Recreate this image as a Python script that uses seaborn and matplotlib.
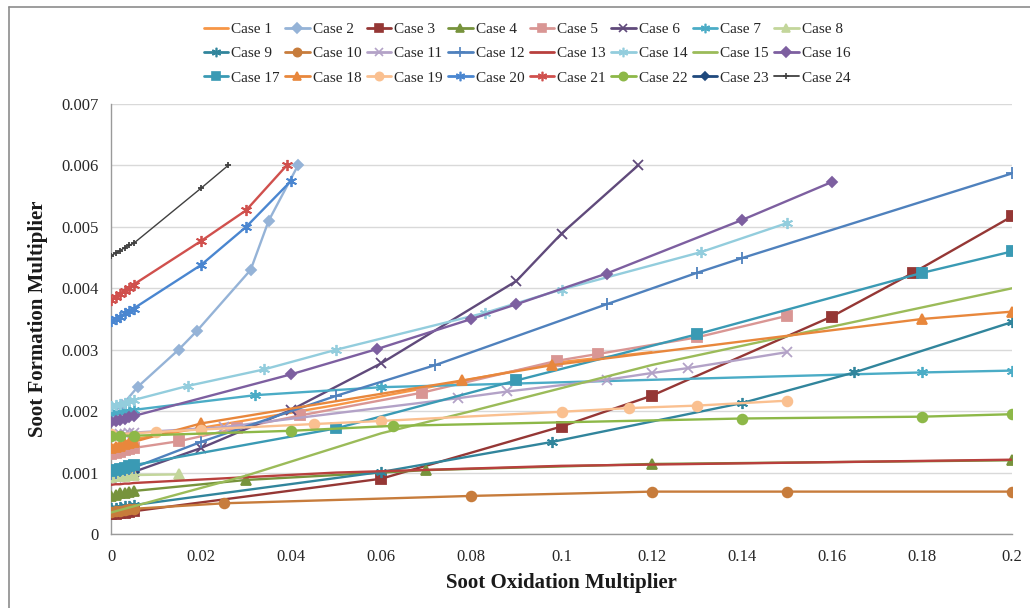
import matplotlib
matplotlib.use("Agg")
import matplotlib.pyplot as plt
from matplotlib.lines import Line2D
from matplotlib.ticker import FuncFormatter, MultipleLocator
import seaborn as sns
import pandas as pd

# ---- data: soot oxidation multiplier (x) vs soot formation multiplier (y) ----
near0 = [0, 0.001, 0.002, 0.003, 0.004, 0.005]

case1_x = near0 + [0.05, 0.1, 0.12]
case1_y = [0.00144, 0.00146, 0.00148, 0.0015, 0.00152, 0.00154, 0.0021, 0.0028, 0.00296]
case2_x = [0, 0.0025, 0.006, 0.015, 0.019, 0.031, 0.035, 0.0415]
case2_y = [0.00195, 0.0021, 0.0024, 0.003, 0.0033, 0.0043, 0.0051, 0.006]
case3_x = near0 + [0.06, 0.1, 0.12, 0.16, 0.178, 0.2]
case3_y = [0.00032, 0.00033, 0.00034, 0.00035, 0.00036, 0.00037, 0.0009, 0.00175, 0.00225, 0.00354, 0.00425, 0.00517]
case4_x = near0 + [0.03, 0.07, 0.12, 0.2]
case4_y = [0.00062, 0.00064, 0.00066, 0.00067, 0.00068, 0.0007, 0.00088, 0.00104, 0.00114, 0.0012]
case5_x = near0 + [0.015, 0.028, 0.042, 0.069, 0.099, 0.108, 0.13, 0.15]
case5_y = [0.0013, 0.00132, 0.00134, 0.00136, 0.00138, 0.0014, 0.00151, 0.00172, 0.00193, 0.0023, 0.00282, 0.00293, 0.0032, 0.00355]
case6_x = near0 + [0.02, 0.04, 0.06, 0.09, 0.1, 0.117]
case6_y = [0.00091, 0.00093, 0.00095, 0.00097, 0.00099, 0.00101, 0.0014, 0.00202, 0.00278, 0.00412, 0.00489, 0.006]
case7_x = near0 + [0.032, 0.06, 0.18, 0.2]
case7_y = [0.00197, 0.00198, 0.00199, 0.002, 0.00201, 0.00202, 0.00226, 0.00239, 0.00263, 0.00266]
case8_x = near0 + [0.015]
case8_y = [0.00093, 0.00094, 0.00095, 0.00095, 0.00096, 0.00096, 0.00097]
case9_x = near0 + [0.06, 0.098, 0.14, 0.165, 0.2]
case9_y = [0.00042, 0.00043, 0.00044, 0.00045, 0.00046, 0.00047, 0.00101, 0.0015, 0.00213, 0.00263, 0.00345]
case10_x = near0 + [0.025, 0.08, 0.12, 0.15, 0.2]
case10_y = [0.00036, 0.00037, 0.00038, 0.00039, 0.0004, 0.00041, 0.0005, 0.00062, 0.00069, 0.00069, 0.00069]
case11_x = near0 + [0.025, 0.077, 0.088, 0.11, 0.12, 0.128, 0.15]
case11_y = [0.0016, 0.00161, 0.00162, 0.00163, 0.00164, 0.00165, 0.00174, 0.00221, 0.00232, 0.00251, 0.00262, 0.0027, 0.00296]
case12_x = near0 + [0.02, 0.05, 0.072, 0.11, 0.13, 0.14, 0.2]
case12_y = [0.00098, 0.001, 0.00102, 0.00104, 0.00106, 0.00108, 0.0015, 0.00225, 0.00275, 0.00374, 0.00425, 0.00449, 0.00587]
case13_x = near0 + [0.05, 0.1, 0.15, 0.2]
case13_y = [0.0008, 0.00081, 0.00081, 0.00082, 0.00082, 0.00083, 0.001, 0.00111, 0.00116, 0.00121]
case14_x = near0 + [0.017, 0.034, 0.05, 0.083, 0.1, 0.131, 0.15]
case14_y = [0.00208, 0.0021, 0.00212, 0.00214, 0.00216, 0.00218, 0.00241, 0.00268, 0.003, 0.0036, 0.00398, 0.00459, 0.00506]
case15_x = near0 + [0.03, 0.06, 0.08, 0.12, 0.2]
case15_y = [0.00035, 0.00037, 0.00039, 0.00041, 0.00043, 0.00045, 0.00095, 0.00164, 0.002, 0.00275, 0.004]
case16_x = near0 + [0.04, 0.059, 0.08, 0.09, 0.11, 0.14, 0.16]
case16_y = [0.00182, 0.00184, 0.00186, 0.00188, 0.0019, 0.00192, 0.0026, 0.00301, 0.0035, 0.00374, 0.00424, 0.00511, 0.00573]
case17_x = near0 + [0.05, 0.09, 0.13, 0.18, 0.2]
case17_y = [0.00102, 0.00104, 0.00106, 0.00108, 0.0011, 0.00112, 0.00172, 0.0025, 0.00325, 0.00425, 0.0046]
case18_x = near0 + [0.02, 0.078, 0.098, 0.18, 0.2]
case18_y = [0.0014, 0.00142, 0.00144, 0.00146, 0.00148, 0.0015, 0.0018, 0.0025, 0.00275, 0.0035, 0.00362]
case19_x = [0, 0.01, 0.02, 0.045, 0.06, 0.1, 0.115, 0.13, 0.15]
case19_y = [0.00162, 0.00166, 0.0017, 0.00179, 0.00184, 0.00199, 0.00205, 0.00209, 0.00217]
case20_x = near0 + [0.02, 0.03, 0.04]
case20_y = [0.00346, 0.0035, 0.00354, 0.00359, 0.00363, 0.00367, 0.00438, 0.005, 0.00575]
case21_x = near0 + [0.02, 0.03, 0.039]
case21_y = [0.00381, 0.00386, 0.00391, 0.00396, 0.00401, 0.00406, 0.00477, 0.00527, 0.006]
case22_x = [0, 0.002, 0.005, 0.04, 0.0625, 0.14, 0.18, 0.2]
case22_y = [0.0016, 0.0016, 0.0016, 0.00168, 0.00176, 0.00188, 0.00191, 0.00195]
case23_x = near0
case23_y = [0.00096, 0.00097, 0.00098, 0.00099, 0.001, 0.00101]
case24_x = near0 + [0.02, 0.026]
case24_y = [0.00453, 0.00457, 0.00461, 0.00466, 0.0047, 0.00473, 0.00563, 0.006]

case_names = [f"Case {i}" for i in range(1, 25)]
xs = [case1_x, case2_x, case3_x, case4_x, case5_x, case6_x, case7_x, case8_x,
      case9_x, case10_x, case11_x, case12_x, case13_x, case14_x, case15_x, case16_x,
      case17_x, case18_x, case19_x, case20_x, case21_x, case22_x, case23_x, case24_x]
ys = [case1_y, case2_y, case3_y, case4_y, case5_y, case6_y, case7_y, case8_y,
      case9_y, case10_y, case11_y, case12_y, case13_y, case14_y, case15_y, case16_y,
      case17_y, case18_y, case19_y, case20_y, case21_y, case22_y, case23_y, case24_y]

# ---- styling per series ----
colors = ["#F79646", "#95B3D7", "#953735", "#77933C", "#D99694", "#604A7B",
          "#4BACC6", "#C3D69B", "#31859C", "#C77C3C", "#B3A2C7", "#4F81BD",
          "#B8403D", "#93CDDD", "#9BBB59", "#7D5FA0", "#3A9AB4", "#E8873C",
          "#FAC090", "#4A86D0", "#D0504D", "#8DB848", "#1F497D", "#404040"]
AST = (6, 2, 0)
markers = [None, "D", "s", "^", "s", "x", AST, "^",
           AST, "o", "x", "+", None, AST, None, "D",
           "s", "^", "o", AST, AST, "o", "D", "+"]
msizes = [0, 5.5, 6.5, 7, 6.5, 7, 8, 7,
          8, 7, 7, 8, 0, 8, 0, 5.5,
          7, 7, 7, 8, 8, 7, 5.0, 5]
lwidths = [1.7] * 23 + [1.0]
zorders = [3] * 24
zorders[22] = 2.5

rows = []
for name, xv, yv in zip(case_names, xs, ys):
    for a, b in zip(xv, yv):
        rows.append({"case": name, "x": a, "y": b})
df = pd.DataFrame(rows)

sns.set_theme(style="white")
plt.rcParams["font.family"] = ["Liberation Serif", "DejaVu Serif"]

fig = plt.figure(figsize=(10.30, 6.08), dpi=100)
ax = fig.add_axes([111 / 1030, 1 - 534 / 608, 901 / 1030, 430 / 608])

handles = []
for i, name in enumerate(case_names):
    sub = df[df["case"] == name]
    mk = markers[i]
    sns.lineplot(data=sub, x="x", y="y", ax=ax, color=colors[i], lw=lwidths[i],
                 marker=mk if mk is not None else "", markersize=msizes[i],
                 markeredgecolor=colors[i], markerfacecolor=colors[i],
                 markeredgewidth=1.3, sort=False, estimator=None, legend=False,
                 zorder=zorders[i])
    handles.append(Line2D([0], [0], color=colors[i], lw=lwidths[i] + 0.3,
                          marker=mk if mk is not None else "",
                          markersize=msizes[i] * 0.85,
                          markeredgecolor=colors[i], markerfacecolor=colors[i],
                          markeredgewidth=1.2))

ax.set_xlim(0, 0.2)
ax.set_ylim(0, 0.007)
ax.xaxis.set_major_locator(MultipleLocator(0.02))
ax.yaxis.set_major_locator(MultipleLocator(0.001))
fmt = FuncFormatter(lambda v, p: f"{round(v, 6):g}")
ax.xaxis.set_major_formatter(fmt)
ax.yaxis.set_major_formatter(fmt)
ax.grid(axis="y", color="#D9D9D9", lw=1.0, zorder=0)
ax.grid(axis="x", visible=False)
for side in ("top", "right"):
    ax.spines[side].set_visible(False)
for side in ("left", "bottom"):
    ax.spines[side].set_color("#9A9A9A")
    ax.spines[side].set_linewidth(1.0)
ax.tick_params(axis="both", which="major", direction="out", length=5, width=1,
               color="#9A9A9A", labelsize=12, labelcolor="#262626")
ax.tick_params(axis="x", pad=6)
ax.tick_params(axis="y", pad=4)
ax.set_xlabel("")
ax.set_ylabel("")

fig.text(561.5 / 1030, 1 - 583 / 608, "Soot Oxidation Multiplier", ha="center",
         va="center", fontsize=15, fontweight="bold", color="#1a1a1a")
fig.text(38 / 1030, 1 - 319 / 608, "Soot Formation Multiplier", ha="center",
         va="center", rotation=90, fontsize=15, fontweight="bold", color="#1a1a1a")

# legend entries laid out row by row in 8 columns
order = [r * 8 + c for c in range(8) for r in range(3)]
leg = fig.legend([handles[k] for k in order], [case_names[k] for k in order],
                 ncol=8, loc="upper center", bbox_to_anchor=(527 / 1030, 1 - 15 / 608),
                 frameon=False, fontsize=11, handlelength=1.6, handletextpad=0.2,
                 columnspacing=0.35, labelspacing=0.68, borderpad=0.0)

# outer chart border
fig.add_artist(Line2D([9 / 1030, 9 / 1030], [0, 1 - 7 / 608], transform=fig.transFigure,
                      color="#8C8C8C", lw=1.2))
fig.add_artist(Line2D([9 / 1030, 1], [1 - 7 / 608, 1 - 7 / 608], transform=fig.transFigure,
                      color="#8C8C8C", lw=1.2))

fig.savefig("out.png", dpi=100, facecolor="white")
